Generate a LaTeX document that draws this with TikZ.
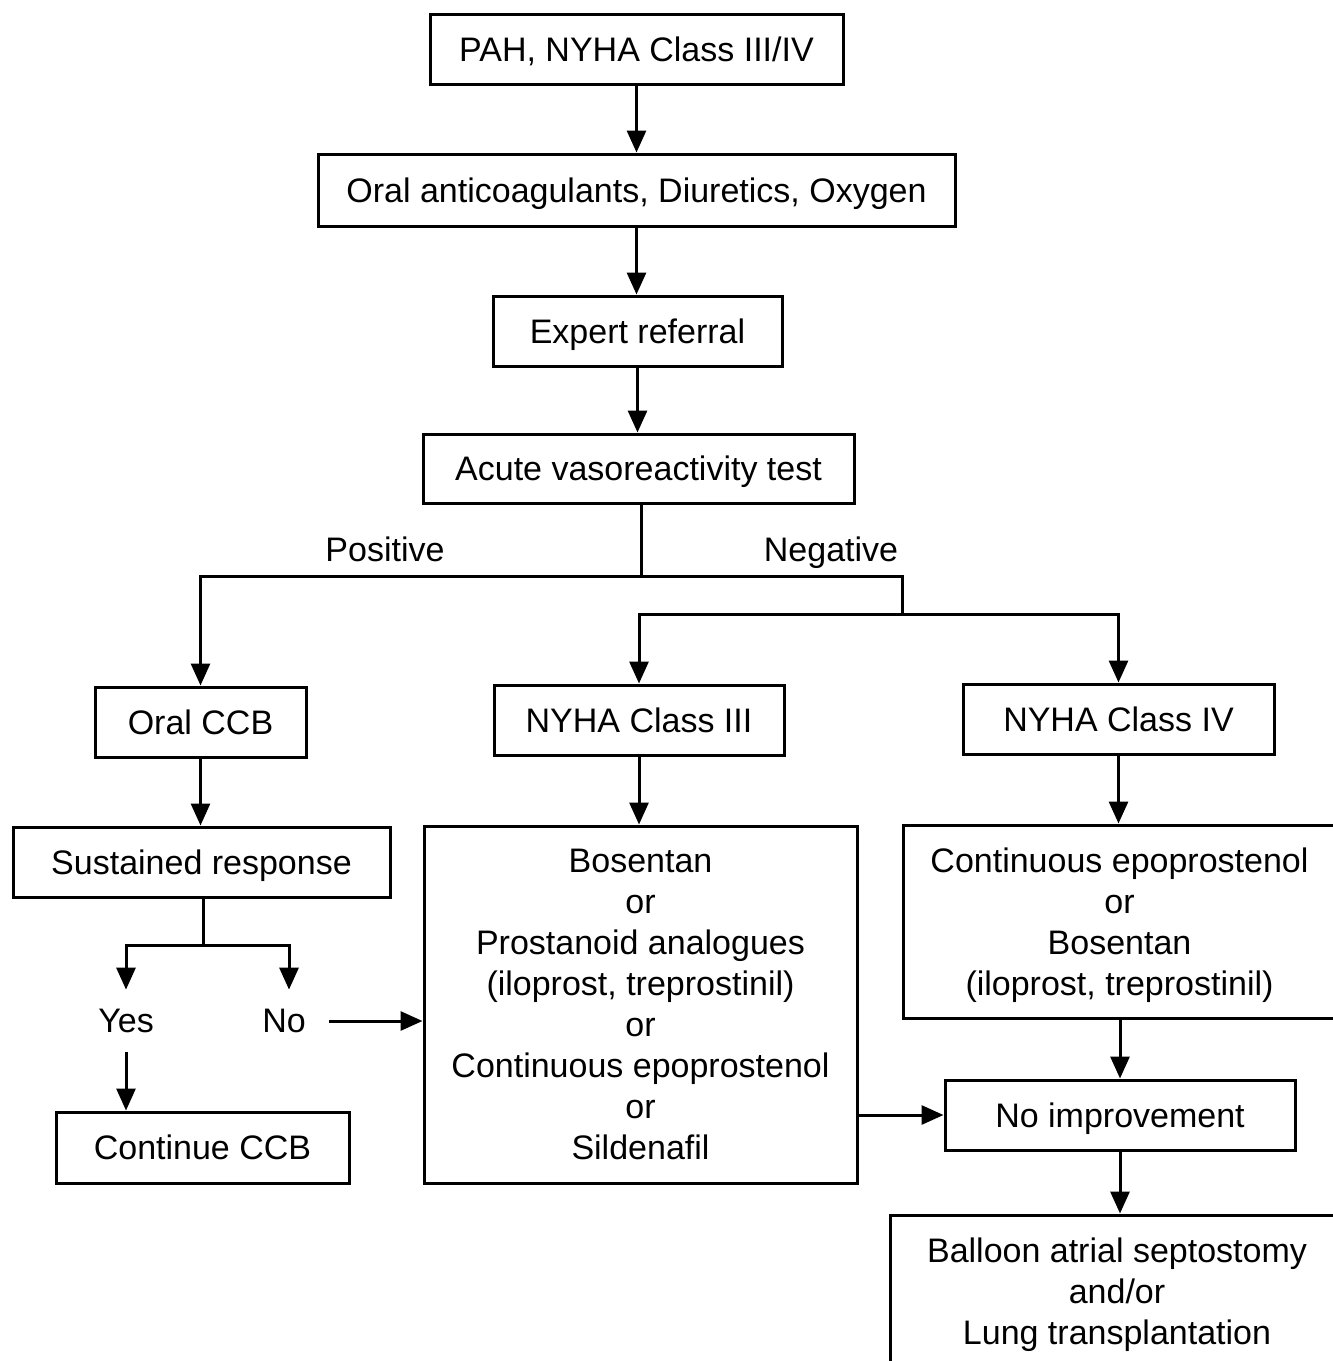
\documentclass[tikz,border=0pt]{standalone}
\usepackage{fontspec}
\setmainfont{Liberation Sans}
\usetikzlibrary{arrows.meta}
\begin{document}
\begin{tikzpicture}[x=0.5pt,y=-0.5pt,
  box/.style={draw=black,line width=1.5pt,align=center,inner sep=0pt,text depth=0pt,
    font=\fontsize{17}{20.5}\selectfont},
  lbl/.style={inner sep=0pt,font=\fontsize{17}{20.5}\selectfont},
  conn/.style={line width=1.5pt},
  arr/.style={line width=1.5pt,-{Triangle[length=11pt,width=9.5pt]}}]
\useasboundingbox (0,0) rectangle (1333,1361);
\clip (0,0) rectangle (1333,1361);
\node[box,minimum width=206.5pt,minimum height=35pt] (pah) at (636.5,49) {PAH, NYHA Class III/IV};
\node[box,minimum width=318.5pt,minimum height=36pt] (oral) at (636.5,190) {Oral anticoagulants, Diuretics, Oxygen};
\node[box,minimum width=144.5pt,minimum height=35pt] (expert) at (637.5,331) {Expert referral};
\node[box,minimum width=215.5pt,minimum height=34.5pt] (acute) at (638.5,468.5) {Acute vasoreactivity test};
\node[lbl] (pos) at (385,549) {Positive};
\node[lbl,text depth=0pt] (neg) at (831,549) {Negative};
\node[box,minimum width=105.5pt,minimum height=35pt] (ccb) at (200.5,722) {Oral CCB};
\node[box,minimum width=145pt,minimum height=35pt] (nyha3) at (639,720) {NYHA Class III};
\node[box,minimum width=155.5pt,minimum height=35pt] (nyha4) at (1118.5,719) {NYHA Class IV};
\node[box,minimum width=188.5pt,minimum height=35pt] (sust) at (201.5,862) {Sustained response};
\node[box,minimum width=216.5pt,minimum height=178.5pt] (big) at (640.5,1004.5) {Bosentan\\or\\Prostanoid analogues\\(iloprost, treprostinil)\\or\\Continuous epoprostenol\\or\\Sildenafil};
\node[box,minimum width=216.5pt,minimum height=96.5pt] (iv) at (1119.5,921.5) {Continuous epoprostenol\\or\\Bosentan\\(iloprost, treprostinil)};
\node[lbl,minimum width=30pt,minimum height=31pt] (yes) at (126,1021) {Yes};
\node[lbl,minimum width=45pt,minimum height=31pt] (no) at (284,1021) {No};
\node[box,minimum width=146.5pt,minimum height=35.5pt] (cont) at (202.5,1147.5) {Continue CCB};
\node[box,minimum width=175pt,minimum height=35pt] (noimp) at (1120,1115) {No improvement};
\node[box,minimum width=227pt,minimum height=76pt] (balloon) at (1117,1291) {Balloon atrial septostomy\\and/or\\Lung transplantation};
% connectors
\draw[arr] (pah.south) -- (pah.south |- oral.north);
\draw[arr] (oral.south) -- (oral.south |- expert.north);
\draw[arr] (expert.south) -- (expert.south |- acute.north);
\coordinate (j1) at (641,576);
\coordinate (j2) at (902,576);
\coordinate (j3) at (902,614);
\draw[conn] (acute.south -| j1) -- (j1);
\draw[arr] (j1) -| (ccb.north);
\draw[conn] (j1) -- (j2) -- (j3);
\draw[arr] (j3) -| (nyha3.north);
\draw[arr] (j3) -| (nyha4.north);
\draw[arr] (ccb.south) -- (ccb.south |- sust.north);
\draw[arr] (nyha3.south) -- (nyha3.south |- big.north);
\draw[arr] (nyha4.south) -- (nyha4.south |- iv.north);
\coordinate (s1) at (203,945);
\draw[conn] (sust.south -| s1) -- (s1);
\draw[arr] (s1) -| (yes.north);
\draw[arr] (s1) -| ([xshift=2.5pt]no.north);
\draw[arr] (no.east) -- (no.east -| big.west);
\draw[arr] (yes.south) -- (yes.south |- cont.north);
\draw[arr] (big.east |- noimp.west) -- (noimp.west);
\draw[arr] (noimp.north |- iv.south) -- (noimp.north);
\draw[arr] (noimp.south) -- (noimp.south |- balloon.north);
\end{tikzpicture}
\end{document}
